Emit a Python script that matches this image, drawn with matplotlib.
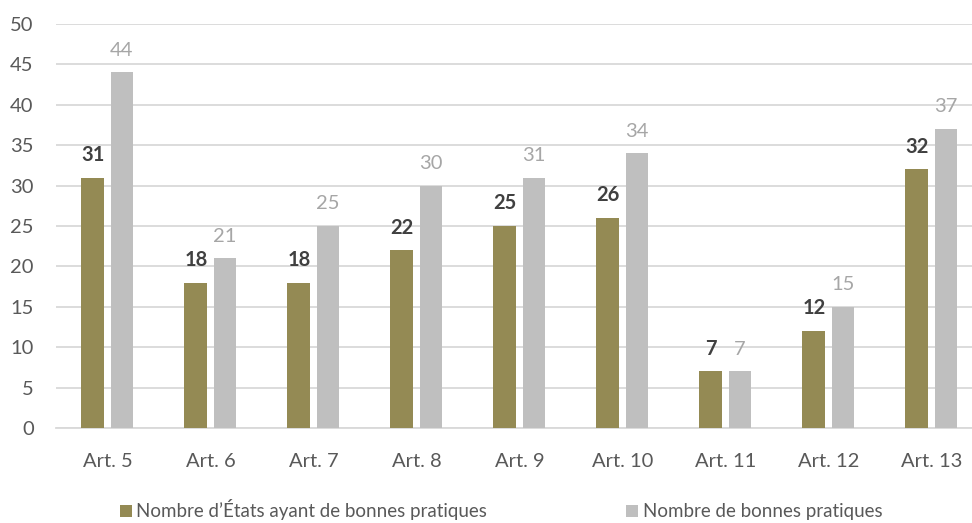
import matplotlib.pyplot as plt
import numpy as np

plt.rcParams['font.family'] = ['Lato', 'DejaVu Sans']

# data
articles = ["Art. 5", "Art. 6", "Art. 7", "Art. 8", "Art. 9", "Art. 10", "Art. 11", "Art. 12", "Art. 13"]
etats = [31, 18, 18, 22, 25, 26, 7, 12, 32]
pratiques = [44, 21, 25, 30, 31, 34, 7, 15, 37]
label_etats = "Nombre d’États ayant de bonnes pratiques"
label_pratiques = "Nombre de bonnes pratiques"

olive = "#948A54"
grey = "#BFBFBF"
text_col = "#595959"

fig = plt.figure(figsize=(9.72, 5.23), dpi=100)
ax = fig.add_axes([0.0576, 0.1816, 0.9537, 0.7725])

x = np.arange(len(articles))
w = 0.223
off = 0.141
b1 = ax.bar(x - off, etats, w, color=olive, label=label_etats, zorder=3)
b2 = ax.bar(x + off, pratiques, w, color=grey, label=label_pratiques, zorder=3)

# value labels
for xi, v in zip(x, etats):
    ax.annotate(str(v), (xi - off, v), xytext=(0, 12), textcoords="offset points",
                ha="center", va="baseline", fontsize=14.5, fontweight="bold", color="#404040")
for xi, v in zip(x, pratiques):
    ax.annotate(str(v), (xi + off, v), xytext=(0, 12), textcoords="offset points",
                ha="center", va="baseline", fontsize=14.5, color="#A6A6A6")

ax.set_xlim(-0.5, len(articles) - 0.5)
ax.set_ylim(0, 50)
ax.set_yticks(range(0, 51, 5))
ax.set_xticks(x)
ax.set_xticklabels(articles)
ax.yaxis.grid(True, color="#D9D9D9", linewidth=1.3, zorder=0)
ax.set_axisbelow(True)
for s in ["top", "right", "left"]:
    ax.spines[s].set_visible(False)
ax.spines["bottom"].set_color("#D9D9D9")
ax.spines["bottom"].set_linewidth(1.3)
ax.tick_params(axis="both", length=0, labelsize=14.5, colors=text_col)
ax.tick_params(axis="x", pad=18)
ax.tick_params(axis="y", pad=16)

fig.legend(handles=[b1, b2], loc="center", bbox_to_anchor=(501 / 972, 1 - 510 / 523),
           ncol=2, frameon=False, fontsize=13.5, labelcolor=text_col,
           handlelength=0.65, handleheight=0.65, handletextpad=0.25, columnspacing=7.4)

fig.savefig("out.png", dpi=100)
